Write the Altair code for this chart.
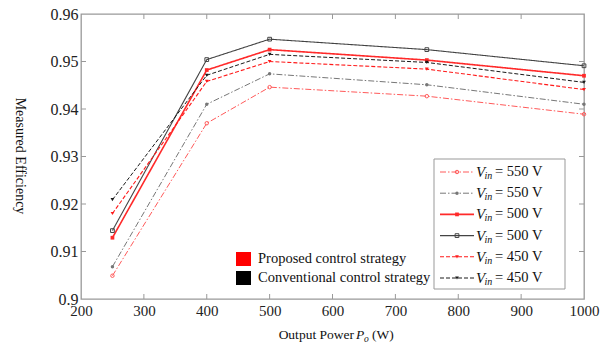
import altair as alt
import pandas as pd

# ---------------- data ----------------
power = [250, 400, 500, 750, 1000]
prop_550 = [0.9049, 0.9370, 0.9446, 0.9427, 0.9389]
conv_550 = [0.9068, 0.9410, 0.9474, 0.9451, 0.9410]
prop_500 = [0.9129, 0.9482, 0.9525, 0.9503, 0.9470]
conv_500 = [0.9144, 0.9504, 0.9547, 0.9525, 0.9491]
prop_450 = [0.9180, 0.9458, 0.9500, 0.9484, 0.9441]
conv_450 = [0.9209, 0.9471, 0.9515, 0.9498, 0.9456]

x_ticks = [200, 300, 400, 500, 600, 700, 800, 900, 1000]
y_ticks = [0.90, 0.91, 0.92, 0.93, 0.94, 0.95, 0.96]

legend_volts = ["550", "550", "500", "500", "450", "450"]
strategy_labels = ["Proposed control strategy", "Conventional control strategy"]

FONT = "Times New Roman, Liberation Serif, serif"
W, H = 503, 285

# style: values, color, dash, shape, filled, width, marker size
series = [
    (prop_550, "#ff5a5a", [6, 2, 1.5, 2], "circle", False, 1.0, 12),
    (conv_550, "#777777", [6, 2, 1.5, 2], "circle", True, 1.0, 12),
    (prop_500, "#ff2a2a", [1, 0], "square", True, 1.6, 14),
    (conv_500, "#444444", [1, 0], "square", False, 1.1, 14),
    (prop_450, "#ff1a1a", [4, 2], "triangle-down", True, 1.1, 14),
    (conv_450, "#1a1a1a", [4, 2], "triangle-down", True, 1.0, 14),
]

xs = alt.Scale(domain=[200, 1000], nice=False, zero=False)
ys = alt.Scale(domain=[0.90, 0.96], nice=False, zero=False)
xaxis = alt.Axis(values=x_ticks, format="d", labelFont=FONT, labelFontSize=15, labelColor="#222",
                 ticks=False, domain=False, grid=False, title=None, labelPadding=4,
                 labelFlush=False)
yaxis = alt.Axis(values=y_ticks, format=".2~f", labelFont=FONT, labelFontSize=16,
                 labelColor="#222", ticks=False, domain=False, grid=False, title=None,
                 labelPadding=3)

X = lambda f: alt.X(f"{f}:Q", scale=xs, axis=xaxis)
Y = lambda f: alt.Y(f"{f}:Q", scale=ys, axis=yaxis)

layers = []

# inward ticks
dfx = pd.DataFrame({"P": x_ticks[1:-1]})
dfy = pd.DataFrame({"eff": y_ticks[1:-1]})
tick_col = "#999999"
layers.append(alt.Chart(dfx).mark_rule(color=tick_col).encode(x=X("P"), y=alt.value(H), y2=alt.value(H - 5)))
layers.append(alt.Chart(dfx).mark_rule(color=tick_col).encode(x=X("P"), y=alt.value(0), y2=alt.value(5)))
layers.append(alt.Chart(dfy).mark_rule(color=tick_col).encode(y=Y("eff"), x=alt.value(0), x2=alt.value(5)))
layers.append(alt.Chart(dfy).mark_rule(color=tick_col).encode(y=Y("eff"), x=alt.value(W), x2=alt.value(W - 5)))

# data lines
for vals, col, dash, shape, filled, sw, ms in series:
    df = pd.DataFrame({"P": power, "eff": vals})
    layers.append(alt.Chart(df).mark_line(color=col, strokeDash=dash, strokeWidth=sw)
                  .encode(x=X("P"), y=Y("eff")))
    layers.append(alt.Chart(df).mark_point(shape=shape, color=col, filled=filled, size=ms,
                                           strokeWidth=1, opacity=1)
                  .encode(x=X("P"), y=Y("eff")))

one = alt.Data(values=[{"a": 1}])

# legend box
layers.append(alt.Chart(one).mark_rect(fill="white", stroke="#999999", strokeWidth=1)
              .encode(x=alt.value(353), x2=alt.value(484), y=alt.value(145), y2=alt.value(275)))

for i, (s, v) in enumerate(zip(series, legend_volts)):
    vals, col, dash, shape, filled, sw, ms = s
    yy = 158 + 21.2 * i
    layers.append(alt.Chart(one).mark_rule(color=col, strokeDash=dash, strokeWidth=sw)
                  .encode(x=alt.value(359), x2=alt.value(393), y=alt.value(yy)))
    layers.append(alt.Chart(one).mark_point(shape=shape, color=col, filled=filled, size=ms,
                                            strokeWidth=1, opacity=1)
                  .encode(x=alt.value(376), y=alt.value(yy)))
    layers.append(alt.Chart(one).mark_text(text="V", font=FONT, fontSize=15, fontStyle="italic",
                                           align="left", baseline="middle", color="#111")
                  .encode(x=alt.value(395), y=alt.value(yy)))
    layers.append(alt.Chart(one).mark_text(text="in", font=FONT, fontSize=10, fontStyle="italic",
                                           align="left", baseline="middle", color="#111")
                  .encode(x=alt.value(403.5), y=alt.value(yy + 4)))
    layers.append(alt.Chart(one).mark_text(text=f"= {v} V", font=FONT, fontSize=14.5,
                                           align="left", baseline="middle", color="#111")
                  .encode(x=alt.value(414), y=alt.value(yy)))

# strategy legend
for i, (lab, col) in enumerate(zip(strategy_labels, ["#ff0000", "#000000"])):
    y0 = 238 + 19 * i
    layers.append(alt.Chart(one).mark_rect(fill=col)
                  .encode(x=alt.value(155), x2=alt.value(170), y=alt.value(y0), y2=alt.value(y0 + 14)))
    layers.append(alt.Chart(one).mark_text(text=lab, font=FONT, fontSize=14.5, align="left",
                                           baseline="middle", color="#111")
                  .encode(x=alt.value(177), y=alt.value(y0 + 7)))

# axis titles
layers.append(alt.Chart(one).mark_text(text="Measured Efficiency", font=FONT, fontSize=14,
                                       angle=90, align="center", baseline="middle", color="#111")
              .encode(x=alt.value(-61), y=alt.value(142)))
ty = 321
layers.append(alt.Chart(one).mark_text(text="Output Power ", font=FONT, fontSize=13.5,
                                       align="right", baseline="middle", color="#111")
              .encode(x=alt.value(273), y=alt.value(ty)))
layers.append(alt.Chart(one).mark_text(text="P", font=FONT, fontSize=13.5, fontStyle="italic",
                                       align="left", baseline="middle", color="#111")
              .encode(x=alt.value(275), y=alt.value(ty)))
layers.append(alt.Chart(one).mark_text(text="o", font=FONT, fontSize=9.5, fontStyle="italic",
                                       align="left", baseline="middle", color="#111")
              .encode(x=alt.value(283), y=alt.value(ty + 4)))
layers.append(alt.Chart(one).mark_text(text="(W)", font=FONT, fontSize=13.5,
                                       align="left", baseline="middle", color="#111")
              .encode(x=alt.value(291), y=alt.value(ty)))

chart = alt.layer(*layers).properties(
    width=W, height=H,
    padding={"left": 81, "top": 14, "right": 26, "bottom": 46},
    autosize=alt.AutoSizeParams(type="none"),
    background="white",
).configure_view(stroke="#999999", strokeWidth=1.3)

chart.save("out.html", embed_options={"renderer": "svg", "actions": False})
